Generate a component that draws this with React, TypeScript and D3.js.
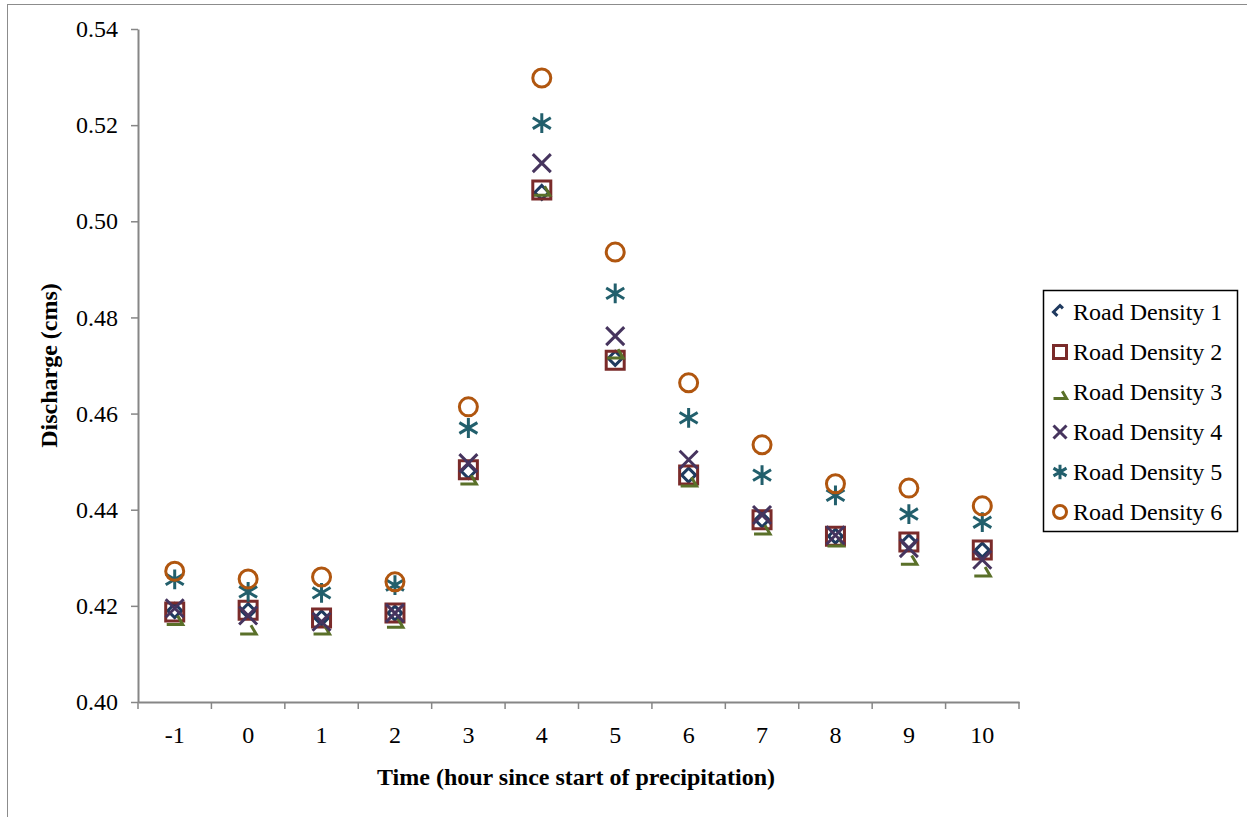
import React, { useEffect, useRef } from "react";
import * as d3 from "d3";

const hours = [-1, 0, 1, 2, 3, 4, 5, 6, 7, 8, 9, 10];
const yTicks = [0.40, 0.42, 0.44, 0.46, 0.48, 0.50, 0.52, 0.54];

const seriesNames = [
  "Road Density 1",
  "Road Density 2",
  "Road Density 3",
  "Road Density 4",
  "Road Density 5",
  "Road Density 6",
];

const rd1 = [0.4190, 0.4190, 0.4175, 0.4185, 0.4480, 0.5060, 0.4715, 0.4472, 0.4379, 0.4345, 0.4333, 0.4316];
const rd2 = [0.4187, 0.4191, 0.4175, 0.4185, 0.4483, 0.5065, 0.4711, 0.4472, 0.4379, 0.4345, 0.4333, 0.4316];
const rd3 = [0.4178, 0.4158, 0.4158, 0.4172, 0.4470, 0.5071, 0.4732, 0.4466, 0.4366, 0.4341, 0.4303, 0.4279];
const rd4 = [0.4195, 0.4180, 0.4167, 0.4185, 0.4497, 0.5121, 0.4761, 0.4504, 0.4389, 0.4347, 0.4320, 0.4296];
const rd5 = [0.4255, 0.4229, 0.4227, 0.4243, 0.4570, 0.5204, 0.4850, 0.4591, 0.4472, 0.4430, 0.4391, 0.4374];
const rd6 = [0.4272, 0.4256, 0.4260, 0.4250, 0.4614, 0.5298, 0.4936, 0.4664, 0.4535, 0.4454, 0.4445, 0.4408];

const seriesValues = [rd1, rd2, rd3, rd4, rd5, rd6];
const seriesColors = ["#1f3a5f", "#7a2b2a", "#5a7029", "#46345e", "#225f6c", "#b0560f"];
const seriesShapes = ["diamond", "square", "triangle", "x", "star", "circle"];

const FONT = "Liberation Serif, Times New Roman, serif";
const FS = "24px";

// marker path, centred on 0,0; legend=true draws the clipped look Excel gives
function markerPath(shape: string, s: number, legend = false): string {
  switch (shape) {
    case "diamond":
      return legend
        ? `M${s * 0.45},${-s * 0.55} L0,${-s} L${-s},0 L${-s * 0.4},${s * 0.6}`
        : `M0,${-s} L${s},0 L0,${s} L${-s},0 Z`;
    case "square":
      return `M${-s},${-s} L${s},${-s} L${s},${s} L${-s},${s} Z`;
    case "triangle":
      return `M${-s},${s} L${s},${s} L${s * 0.35},${-s * 0.1}`;
    case "x":
      return `M${-s},${-s} L${s},${s} M${s},${-s} L${-s},${s}`;
    case "star":
      return `M0,${-s * 1.1} L0,${s * 1.1} M${-s},${-s * 0.6} L${s},${s * 0.6} M${s},${-s * 0.6} L${-s},${s * 0.6}`;
    default:
      return "";
  }
}

function drawMarker(g: d3.Selection<SVGGElement, unknown, null, undefined>, shape: string, cx: number, cy: number, color: string, s: number, legend = false) {
  if (shape === "circle") {
    g.append("circle")
      .attr("cx", cx)
      .attr("cy", cy)
      .attr("r", s)
      .attr("fill", "none")
      .attr("stroke", color)
      .attr("stroke-width", 3);
    return;
  }
  g.append("path")
    .attr("transform", `translate(${cx},${cy})`)
    .attr("d", markerPath(shape, s, legend))
    .attr("fill", "none")
    .attr("stroke", color)
    .attr("stroke-width", 3);
}

const App: React.FC = () => {
  const svgRef = useRef<SVGSVGElement | null>(null);

  useEffect(() => {
    if (!svgRef.current) return;
    const width = 1247;
    const height = 817;
    const plot = { left: 138, right: 1019, top: 29, bottom: 702 };

    const svg = d3.select(svgRef.current);
    svg.selectAll("*").remove();

    // outer chart frame
    svg.append("rect")
      .attr("x", 7.5)
      .attr("y", 4.5)
      .attr("width", width)
      .attr("height", height)
      .attr("fill", "white")
      .attr("stroke", "#8c8c8c")
      .attr("stroke-width", 1);

    const x = d3.scaleBand<number>()
      .domain(hours)
      .range([plot.left, plot.right])
      .padding(0);

    const y = d3.scaleLinear()
      .domain([0.40, 0.54])
      .range([plot.bottom, plot.top]);

    const axisColor = "#868686";

    // y axis
    const yAxis = svg.append("g")
      .attr("transform", `translate(${plot.left},0)`)
      .call(d3.axisLeft(y).tickValues(yTicks).tickFormat(d3.format(".2f")).tickSize(7).tickSizeOuter(0));
    yAxis.attr("font-family", null).attr("font-size", null);
    yAxis.select(".domain").attr("stroke", axisColor).attr("stroke-width", 2);
    yAxis.selectAll(".tick line").attr("stroke", axisColor).attr("stroke-width", 1.5);
    yAxis.selectAll(".tick text")
      .attr("x", -20)
      .style("font-family", FONT)
      .style("font-size", FS)
      .attr("fill", "#000");

    // x axis: ticks sit between categories
    const xAxis = svg.append("g")
      .attr("transform", `translate(0,${plot.bottom})`)
      .call(d3.axisBottom(x).tickSize(0).tickSizeOuter(0));
    xAxis.attr("font-family", null).attr("font-size", null);
    xAxis.select(".domain").attr("stroke", axisColor).attr("stroke-width", 2);
    xAxis.selectAll(".tick text")
      .attr("y", 41)
      .attr("dy", 0)
      .style("font-family", FONT)
      .style("font-size", FS)
      .attr("fill", "#000");

    const step = x.step();
    svg.append("g")
      .selectAll("line")
      .data(d3.range(hours.length + 1))
      .join("line")
      .attr("x1", i => plot.left + i * step)
      .attr("x2", i => plot.left + i * step)
      .attr("y1", plot.bottom)
      .attr("y2", plot.bottom + 7)
      .attr("stroke", axisColor)
      .attr("stroke-width", 1.5);

    // axis titles
    svg.append("text")
      .attr("x", 576)
      .attr("y", 785)
      .attr("text-anchor", "middle")
      .style("font-family", FONT)
      .style("font-size", FS)
      .style("font-weight", "bold")
      .text("Time (hour since start of precipitation)");

    svg.append("text")
      .attr("transform", `translate(57,${(plot.top + plot.bottom) / 2}) rotate(-90)`)
      .attr("text-anchor", "middle")
      .style("font-family", FONT)
      .style("font-size", FS)
      .style("font-weight", "bold")
      .text("Discharge (cms)");

    // points
    const pts = svg.append("g");
    seriesValues.forEach((vals, si) => {
      vals.forEach((v, i) => {
        const cx = x(hours[i])! + x.bandwidth() / 2;
        const cy = y(v);
        const s = seriesShapes[si] === "diamond" ? 7 : seriesShapes[si] === "triangle" ? 8 : 9;
        drawMarker(pts, seriesShapes[si], cx, cy, seriesColors[si], s);
      });
    });

    // legend
    const lg = svg.append("g");
    lg.append("rect")
      .attr("x", 1043.5)
      .attr("y", 290.5)
      .attr("width", 194)
      .attr("height", 241)
      .attr("fill", "white")
      .attr("stroke", "#000")
      .attr("stroke-width", 1.5);

    seriesNames.forEach((name, i) => {
      const cy = 312 + i * 40;
      drawMarker(lg, seriesShapes[i], 1060, cy, seriesColors[i], 6.5, true);
      lg.append("text")
        .attr("x", 1073)
        .attr("y", cy)
        .attr("dy", "0.33em")
        .style("font-family", FONT)
        .style("font-size", FS)
        .attr("fill", "#000")
        .text(name);
    });
  }, []);

  return (
    <div style={{ position: "absolute", left: 0, top: 0 }}>
      <svg ref={svgRef} width={1247} height={817} style={{ display: "block" }} />
    </div>
  );
};

export default App;
